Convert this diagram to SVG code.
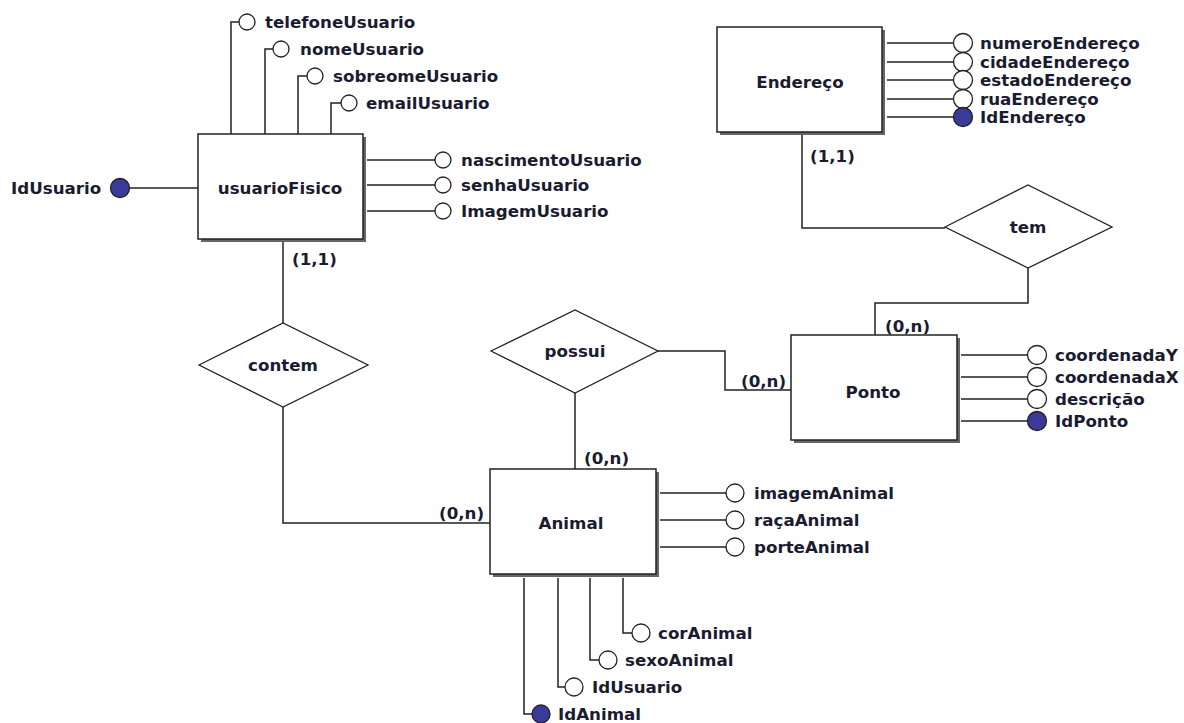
<svg xmlns="http://www.w3.org/2000/svg" width="1184" height="723" viewBox="0 0 1184 723">
<style>
text{font-family:"DejaVu Sans","Liberation Sans",sans-serif;font-weight:bold;font-size:16.7px;fill:#1b1b30}
.lbl{text-anchor:middle}
.ent{fill:#fff;stroke:#222;stroke-width:1.5}
.shd{fill:#666}
.rel{fill:#fff;stroke:#222;stroke-width:1.3}
.ln{fill:none;stroke:#222;stroke-width:1.5}
.at{fill:#fff;stroke:#222;stroke-width:1.3}
.pk{fill:#3a3a98;stroke:#222;stroke-width:1.3}
</style>
<rect width="1184" height="723" fill="#fff"/>
<g id="connectors">
<path class="ln" d="M120,188 H198"/>
<path class="ln" d="M283,240 V323"/>
<path class="ln" d="M283,407 V523 H490"/>
<path class="ln" d="M575,393 V469"/>
<path class="ln" d="M658,351 H725 V390 H791"/>
<path class="ln" d="M802,133 V228 H945"/>
<path class="ln" d="M1028,268 V303 H875 V335"/>
</g>
<g id="usuarioFisico">
<rect class="shd" x="201" y="137" width="165" height="105"/>
<rect class="ent" x="198" y="134" width="165" height="105"/>
<text class="lbl" x="280" y="194">usuarioFisico</text>
<path class="ln" d="M231,134 V22 H239 M265,134 V49 H273 M298,134 V76 H307 M331,134 V103 H341 M367,160 H435 M367,185 H435 M367,211 H435"/>
<circle class="at" cx="247" cy="22" r="8"/>
<circle class="at" cx="281" cy="49" r="8"/>
<circle class="at" cx="315" cy="76" r="8"/>
<circle class="at" cx="349" cy="103" r="8"/>
<circle class="at" cx="443" cy="160" r="8"/>
<circle class="at" cx="443" cy="185" r="8"/>
<circle class="at" cx="443" cy="211" r="8"/>
<circle class="pk" cx="120" cy="188" r="9.5"/>
<text x="265" y="28">telefoneUsuario</text>
<text x="300" y="55">nomeUsuario</text>
<text x="333" y="82">sobreomeUsuario</text>
<text x="366" y="109">emailUsuario</text>
<text x="461" y="166">nascimentoUsuario</text>
<text x="461" y="191">senhaUsuario</text>
<text x="461" y="217">ImagemUsuario</text>
<text x="11" y="194">IdUsuario</text>
<text x="292" y="265">(1,1)</text>
</g>
<g id="contem">
<polygon class="rel" points="199,365 283,323 368,365 283,407"/>
<text class="lbl" x="283" y="371">contem</text>
</g>
<g id="Endereco">
<rect class="shd" x="720" y="30" width="165" height="105"/>
<rect class="ent" x="717" y="27" width="165" height="105"/>
<text class="lbl" x="800" y="88">Endereço</text>
<path class="ln" d="M887,43 H954 M887,62 H954 M887,80 H954 M887,99 H954 M887,117 H954"/>
<circle class="at" cx="963" cy="43" r="9.5"/>
<circle class="at" cx="963" cy="62" r="9.5"/>
<circle class="at" cx="963" cy="80" r="9.5"/>
<circle class="at" cx="963" cy="99" r="9.5"/>
<circle class="pk" cx="963" cy="117" r="9.5"/>
<text x="980" y="49">numeroEndereço</text>
<text x="980" y="68">cidadeEndereço</text>
<text x="980" y="86">estadoEndereço</text>
<text x="980" y="105">ruaEndereço</text>
<text x="980" y="123">IdEndereço</text>
<text x="810" y="162">(1,1)</text>
</g>
<g id="tem">
<polygon class="rel" points="945,227 1028,185 1112,227 1028,268"/>
<text class="lbl" x="1028" y="233">tem</text>
</g>
<g id="possui">
<polygon class="rel" points="491,351 575,310 658,351 575,393"/>
<text class="lbl" x="575" y="357">possui</text>
</g>
<g id="Ponto">
<rect class="shd" x="794" y="338" width="166" height="105"/>
<rect class="ent" x="791" y="335" width="166" height="105"/>
<text class="lbl" x="873" y="398">Ponto</text>
<path class="ln" d="M961,355 H1028 M961,377 H1028 M961,399 H1028 M961,421 H1028"/>
<circle class="at" cx="1037" cy="355" r="9.5"/>
<circle class="at" cx="1037" cy="377" r="9.5"/>
<circle class="at" cx="1037" cy="399" r="9.5"/>
<circle class="pk" cx="1037" cy="421" r="9.5"/>
<text x="1055" y="361">coordenadaY</text>
<text x="1055" y="383">coordenadaX</text>
<text x="1055" y="405">descrição</text>
<text x="1055" y="427">IdPonto</text>
<text x="885" y="332">(0,n)</text>
<text x="741" y="387">(0,n)</text>
</g>
<g id="Animal">
<rect class="shd" x="493" y="472" width="166" height="105"/>
<rect class="ent" x="490" y="469" width="166" height="105"/>
<text class="lbl" x="571" y="529">Animal</text>
<path class="ln" d="M660,493 H726 M660,520 H726 M660,547 H726 M524,578 V714 H532 M558,578 V687 H565 M590,578 V660 H599 M623,578 V633 H632"/>
<circle class="at" cx="735" cy="493" r="9"/>
<circle class="at" cx="735" cy="520" r="9"/>
<circle class="at" cx="735" cy="547" r="9"/>
<circle class="pk" cx="541" cy="714" r="9"/>
<circle class="at" cx="574" cy="687" r="9"/>
<circle class="at" cx="608" cy="660" r="9"/>
<circle class="at" cx="641" cy="633" r="9"/>
<text x="754" y="499">imagemAnimal</text>
<text x="754" y="526">raçaAnimal</text>
<text x="754" y="553">porteAnimal</text>
<text x="558" y="720">IdAnimal</text>
<text x="592" y="693">IdUsuario</text>
<text x="625" y="666">sexoAnimal</text>
<text x="658" y="639">corAnimal</text>
<text x="584" y="464">(0,n)</text>
<text x="439" y="519">(0,n)</text>
</g>
</svg>
